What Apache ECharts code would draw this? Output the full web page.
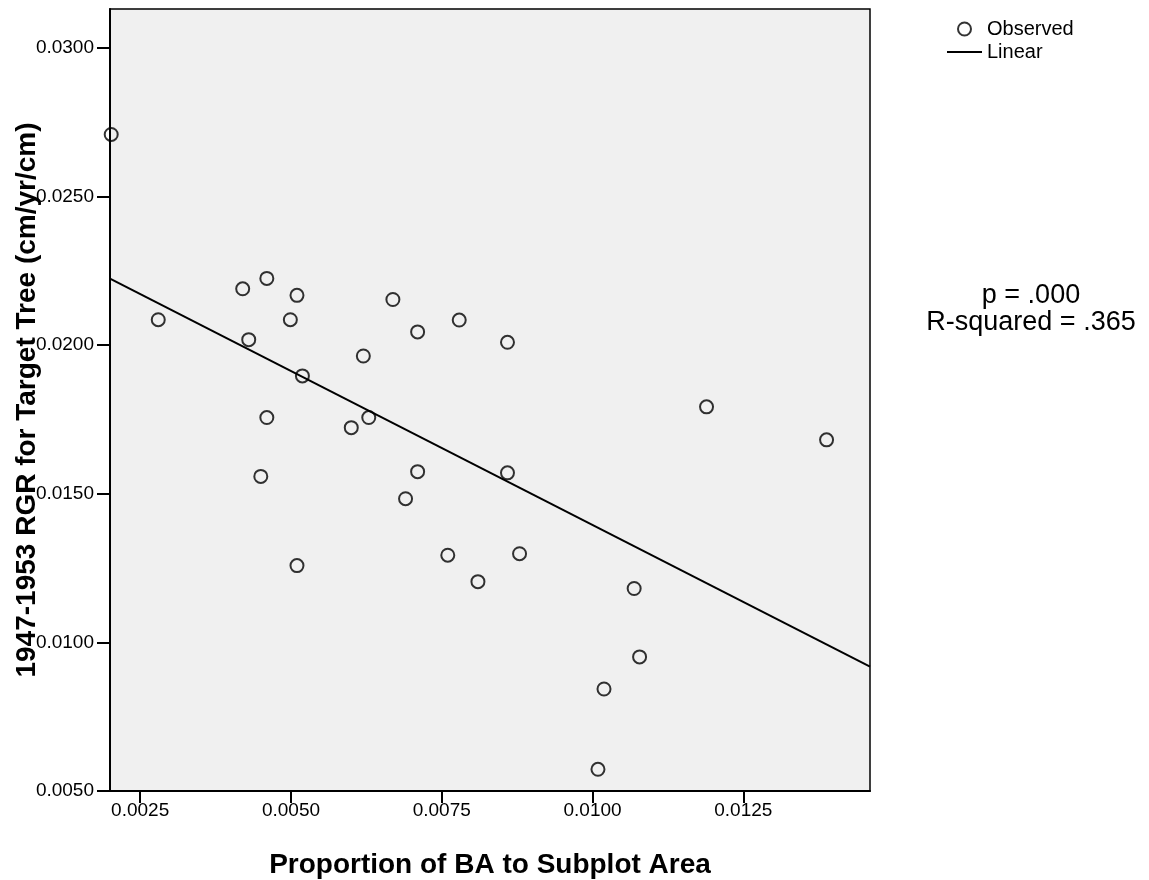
<!DOCTYPE html>
<html>
<head>
<meta charset="utf-8">
<script src="https://cdn.jsdelivr.net/npm/echarts@6/dist/echarts.min.js"></script>
<style>
  html, body { margin: 0; padding: 0; background: #fff; }
  #chart { width: 1149px; height: 880px; }
</style>
</head>
<body>
<div id="chart"></div>
<script>
// observed points (proportion of BA, RGR)
var baProportion = [
  0.00202, 0.00280, 0.00420, 0.00460, 0.00510, 0.00499, 0.00430, 0.00519,
  0.00460, 0.00450, 0.00510, 0.00620, 0.00669, 0.00710, 0.00779, 0.00629,
  0.00600, 0.00710, 0.00690, 0.00859, 0.00859, 0.00760, 0.00879, 0.00810,
  0.01069, 0.01078, 0.01019, 0.01009, 0.01189, 0.01388
];
var rgr = [
  0.02708, 0.02085, 0.02189, 0.02224, 0.02167, 0.02085, 0.02018, 0.01896,
  0.01756, 0.01558, 0.01258, 0.01963, 0.02153, 0.02044, 0.02084, 0.01756,
  0.01722, 0.01574, 0.01483, 0.02009, 0.01570, 0.01293, 0.01298, 0.01204,
  0.01181, 0.00951, 0.00843, 0.00573, 0.01792, 0.01681
];
// fitted linear line, ends at the axis limits
var fitX = [0.0020, 0.0146];
var fitY = [0.02223, 0.00918];

var xTicks = [0.0025, 0.0050, 0.0075, 0.0100, 0.0125];
var yTicks = [0.0050, 0.0100, 0.0150, 0.0200, 0.0250, 0.0300];

var points = [];
for (var i = 0; i < baProportion.length; i++) {
  points.push([baProportion[i], rgr[i]]);
}
var fitLine = [];
for (var j = 0; j < fitX.length; j++) {
  fitLine.push([fitX[j], fitY[j]]);
}

var FONT = '"Liberation Sans", Arial, sans-serif';

var myChart = echarts.init(document.getElementById('chart'));

var option = {
  backgroundColor: '#fff',
  animation: false,
  textStyle: { fontFamily: FONT },
  grid: {
    left: 110,
    top: 9,
    right: 279,
    bottom: 89,
    containLabel: false,
    outerBoundsMode: 'none',
    show: true,
    backgroundColor: '#f0f0f0',
    borderColor: '#000',
    borderWidth: 1.5
  },
  legend: {
    orient: 'vertical',
    left: 941,
    top: 14,
    itemWidth: 35,
    itemHeight: 13,
    itemGap: 3,
    textStyle: { fontFamily: FONT, fontSize: 20, color: '#000' },
    data: [
      { name: 'Observed' },
      { name: 'Linear', itemStyle: { color: 'transparent', borderWidth: 0 } }
    ]
  },
  xAxis: {
    type: 'value',
    min: 0.0020,
    max: 0.0146,
    name: 'Proportion of BA to Subplot Area',
    nameLocation: 'middle',
    nameGap: 60,
    nameTextStyle: { fontFamily: FONT, fontSize: 28, fontWeight: 'bold', color: '#000' },
    axisLine: { onZero: false, lineStyle: { color: '#000', width: 2 } },
    axisTick: { show: true, length: 12, customValues: xTicks, lineStyle: { color: '#000', width: 2 } },
    axisLabel: {
      customValues: xTicks,
      margin: 10,
      fontSize: 19,
      color: '#000',
      fontFamily: FONT,
      formatter: function (v) { return v.toFixed(4); }
    },
    splitLine: { show: false }
  },
  yAxis: {
    type: 'value',
    min: 0.0050,
    max: 0.0313,
    name: '1947-1953 RGR for Target Tree (cm/yr/cm)',
    nameLocation: 'middle',
    nameGap: 69,
    nameMoveOverlap: false,
    nameTextStyle: { fontFamily: FONT, fontSize: 28, fontWeight: 'bold', color: '#000' },
    axisLine: { onZero: false, lineStyle: { color: '#000', width: 2 } },
    axisTick: { show: true, length: 13, customValues: yTicks, lineStyle: { color: '#000', width: 2 } },
    axisLabel: {
      customValues: yTicks,
      margin: 16,
      fontSize: 19,
      color: '#000',
      fontFamily: FONT,
      formatter: function (v) { return v.toFixed(4); }
    },
    splitLine: { show: false }
  },
  series: [
    {
      name: 'Observed',
      type: 'scatter',
      symbol: 'circle',
      symbolSize: 13,
      itemStyle: { color: 'transparent', borderColor: '#000', borderWidth: 2 },
      data: points,
      z: 3
    },
    {
      name: 'Linear',
      type: 'line',
      symbol: 'none',
      lineStyle: { color: '#000', width: 2 },
      itemStyle: { color: '#000' },
      data: fitLine,
      z: 2
    }
  ],
  graphic: [
    {
      type: 'text',
      x: 1031,
      y: 282,
      style: {
        text: 'p = .000\nR-squared = .365',
        textAlign: 'center',
        font: '27px ' + FONT,
        lineHeight: 27,
        fill: '#000'
      }
    }
  ]
};

myChart.setOption(option);
</script>
</body>
</html>
